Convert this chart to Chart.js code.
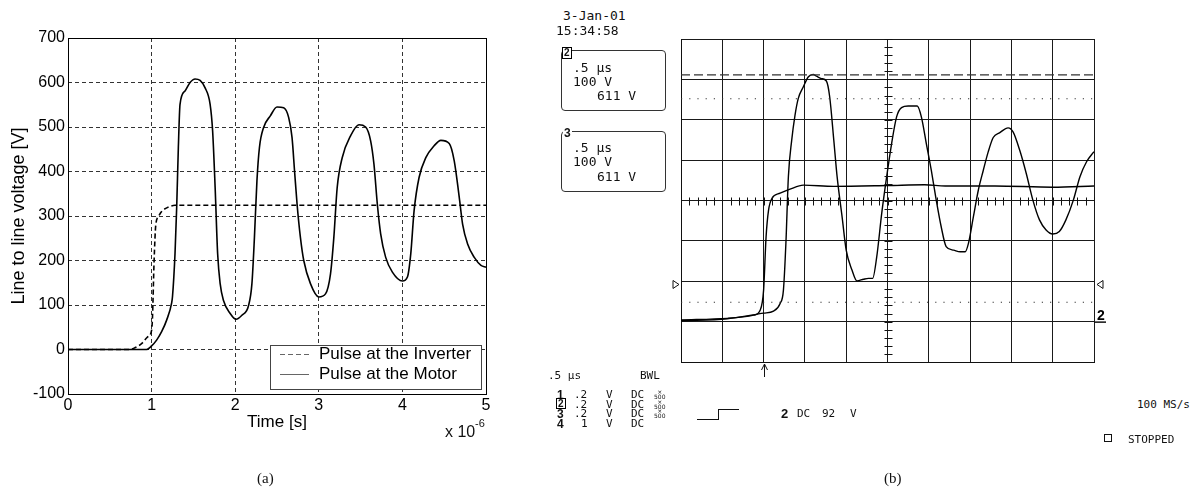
<!DOCTYPE html>
<html><head><meta charset="utf-8">
<script src="https://cdn.jsdelivr.net/npm/chart.js@4.4.1/dist/chart.umd.min.js"></script>
<style>
html,body{margin:0;padding:0;background:#fff;}
body{width:1204px;height:491px;position:relative;overflow:hidden;}
.box{position:absolute;}
.t{position:absolute;white-space:pre;line-height:1;color:#111;}
.m13{font-family:"DejaVu Sans Mono",monospace;font-size:13px;}
.m11{font-family:"DejaVu Sans Mono",monospace;font-size:11px;}
.bd{font-family:"Liberation Sans",Arial,sans-serif;font-weight:bold;font-size:13px;}
.serif{font-family:"Liberation Serif","Times New Roman",serif;font-size:15px;}
.sans{font-family:"Liberation Sans",Arial,sans-serif;}
.frame{position:absolute;border:1px solid #333;border-radius:4px;box-sizing:border-box;}
.tiny{position:absolute;font-family:"DejaVu Sans",sans-serif;font-size:6px;line-height:5px;text-align:center;color:#111;}
</style></head>
<body>
<div class="box" style="left:0;top:0;width:545px;height:491px"><canvas id="c1"></canvas></div>
<div class="box" style="left:660px;top:0;width:460px;height:491px"><canvas id="c2"></canvas></div>

<!-- left figure extras -->
<div class="t sans" style="left:445px;top:424px;font-size:16px">x 10</div>
<div class="t sans" style="left:475px;top:418px;font-size:11px">-6</div>
<div class="t serif" style="left:257px;top:471px">(a)</div>
<div class="t serif" style="left:884px;top:471px">(b)</div>

<!-- scope header -->
<div class="t m13" style="left:563px;top:9px">3-Jan-01</div>
<div class="t m13" style="left:556px;top:24px">15:34:58</div>

<div class="frame" style="left:561px;top:50px;width:105px;height:61px"></div>
<div class="t bd" style="left:562px;top:47px;font-size:10px;background:#fff;border:1.5px solid #000;padding:0 1px;line-height:10px">2</div>
<div class="t m13" style="left:573px;top:61px">.5 µs</div>
<div class="t m13" style="left:573px;top:75px">100 V</div>
<div class="t m13" style="left:597px;top:89px">611 V</div>

<div class="frame" style="left:561px;top:131px;width:105px;height:61px"></div>
<div class="t bd" style="left:563px;top:127px;font-size:12px;background:#fff;padding:0 1px">3</div>
<div class="t m13" style="left:573px;top:141px">.5 µs</div>
<div class="t m13" style="left:573px;top:155px">100 V</div>
<div class="t m13" style="left:597px;top:170px">611 V</div>

<!-- scope footer -->
<div class="t m11" style="left:548px;top:370px">.5 µs</div>
<div class="t m11" style="left:640px;top:370px">BWL</div>

<div class="t bd" style="left:557px;top:389px;font-size:12px">1</div>
<div class="t m11" style="left:574px;top:389px">.2</div>
<div class="t m11" style="left:606px;top:389px">V</div>
<div class="t m11" style="left:631px;top:389px">DC</div>
<div class="tiny" style="left:654px;top:389px">×<br>500</div>

<div class="t bd" style="left:556px;top:398px;font-size:10px;border:1.5px solid #000;line-height:9px;padding:0 1px">2</div>
<div class="t m11" style="left:574px;top:398.5px">.2</div>
<div class="t m11" style="left:606px;top:398.5px">V</div>
<div class="t m11" style="left:631px;top:398.5px">DC</div>
<div class="tiny" style="left:654px;top:398.5px">×<br>500</div>

<div class="t bd" style="left:557px;top:408px;font-size:12px">3</div>
<div class="t m11" style="left:574px;top:408px">.2</div>
<div class="t m11" style="left:606px;top:408px">V</div>
<div class="t m11" style="left:631px;top:408px">DC</div>
<div class="tiny" style="left:654px;top:408px">×<br>500</div>

<div class="t bd" style="left:557px;top:417.5px;font-size:12px">4</div>
<div class="t m11" style="left:581px;top:417.5px">1</div>
<div class="t m11" style="left:606px;top:417.5px">V</div>
<div class="t m11" style="left:631px;top:417.5px">DC</div>

<div class="box" style="left:697px;top:419px;width:21px;border-top:1.5px solid #111"></div>
<div class="box" style="left:718px;top:409px;height:11px;border-left:1.5px solid #111"></div>
<div class="box" style="left:718px;top:409px;width:21px;border-top:1.5px solid #111"></div>

<div class="t bd" style="left:781px;top:407px;font-size:13px">2</div>
<div class="t m11" style="left:797px;top:408px">DC</div>
<div class="t m11" style="left:822px;top:408px">92</div>
<div class="t m11" style="left:850px;top:408px">V</div>

<div class="t m11" style="left:1137px;top:399px">100 MS/s</div>
<div class="box" style="left:1104px;top:434px;width:6px;height:6px;border:1.5px solid #111"></div>
<div class="t m11" style="left:1128px;top:434px">STOPPED</div>

<script>
// ---------- data: panel (a) simulation, time in µs, voltage in V ----------
const inverterSim = [[0,0],[0.74,0],[0.8,4],[0.88,13],[0.95,28],[1.0,43],[1.01,70],[1.03,200],[1.05,280],[1.08,298],[1.12,310],[1.2,320],[1.28,324],[5,324]];
const motorSim = [[0,0],[0.94,0],[1.0,8],[1.06,21],[1.12,40],[1.18,66],[1.24,105],[1.25,119],[1.28,215],[1.3,319],[1.32,454],[1.34,551],[1.4,581],[1.46,600],[1.52,608],[1.58,605],[1.64,588],[1.7,551],[1.73,491],[1.76,364],[1.79,215],[1.82,148],[1.86,110],[1.94,81],[2.01,68],[2.08,77],[2.16,99],[2.2,148],[2.23,252],[2.26,379],[2.29,454],[2.34,499],[2.42,525],[2.5,545],[2.58,543],[2.64,521],[2.68,476],[2.71,401],[2.74,327],[2.78,252],[2.82,200],[2.9,148],[3.0,118],[3.08,125],[3.14,170],[3.18,252],[3.22,364],[3.28,431],[3.38,480],[3.48,505],[3.56,500],[3.62,469],[3.66,416],[3.7,327],[3.74,260],[3.8,207],[3.88,174],[4.0,154],[4.06,163],[4.1,215],[4.14,312],[4.2,387],[4.28,431],[4.38,458],[4.46,470],[4.56,463],[4.62,424],[4.68,342],[4.72,282],[4.78,237],[4.86,207],[4.94,189],[5.0,185]];
const simLabels = ['Pulse at the Inverter','Pulse at the Motor'];
const xTicksSim = [0,1,2,3,4,5];
const yTicksSim = [-100,0,100,200,300,400,500,600,700];

// ---------- data: panel (b) oscilloscope, time in µs (0.5 µs/div), voltage in V (100 V/div) ----------
const inverterScope = [[0,4],[0.56,8],[0.88,16],[0.96,29],[1.0,78],[1.03,210],[1.06,276],[1.1,305],[1.2,318],[1.32,328],[1.48,338],[1.85,335],[2.5,337],[2.95,339],[3.2,336],[3.8,336],[4.5,333],[5.0,336]];
const motorScope = [[0,2],[0.56,7],[1.0,21],[1.12,26],[1.2,45],[1.24,78],[1.27,194],[1.3,359],[1.34,449],[1.38,511],[1.42,553],[1.48,581],[1.54,606],[1.6,612],[1.64,608],[1.7,602],[1.76,596],[1.8,557],[1.85,449],[1.89,359],[1.95,260],[2.0,177],[2.07,128],[2.13,101],[2.21,105],[2.27,107],[2.32,107],[2.37,161],[2.43,268],[2.49,359],[2.55,441],[2.61,507],[2.67,530],[2.75,534],[2.86,534],[2.91,507],[2.97,441],[3.03,375],[3.09,301],[3.15,235],[3.21,186],[3.3,177],[3.38,173],[3.44,173],[3.48,194],[3.54,260],[3.6,326],[3.66,375],[3.72,421],[3.78,456],[3.86,468],[3.96,480],[4.02,470],[4.1,425],[4.18,367],[4.26,301],[4.34,252],[4.42,227],[4.5,217],[4.58,223],[4.66,252],[4.75,301],[4.83,359],[4.91,396],[5.0,421]];
const cursorDashed = [611];
const cursorDotted = [552, 48];
const triggerLevel = [92];
const triggerTime = [1.0];
const scopeCenter = [2.5, 300];

const SANS = '"Liberation Sans", Arial, sans-serif';
const pts = arr => arr.map(p => ({x: p[0], y: p[1]}));

// ---------- panel (a) ----------
const boxAndLegend = {
  id: 'boxAndLegend',
  afterDraw(chart) {
    const {ctx, chartArea: a} = chart;
    ctx.save();
    ctx.strokeStyle = '#000'; ctx.lineWidth = 1; ctx.setLineDash([]);
    ctx.strokeRect(Math.round(a.left) + 0.5, Math.round(a.top) + 0.5, Math.round(a.right - a.left), Math.round(a.bottom - a.top));
    const L = 270.5, T = 345.5, W = 211, H = 44;
    ctx.fillStyle = '#fff'; ctx.fillRect(L, T, W, H);
    ctx.strokeStyle = '#444'; ctx.strokeRect(L, T, W, H);
    const ds = chart.data.datasets;
    const rows = [354, 374];
    for (let i = 0; i < 2; i++) {
      ctx.strokeStyle = '#666'; ctx.lineWidth = 1;
      ctx.setLineDash(ds[i].borderDash || []);
      ctx.beginPath(); ctx.moveTo(280, rows[i] + 0.5); ctx.lineTo(309, rows[i] + 0.5); ctx.stroke();
      ctx.setLineDash([]);
      ctx.fillStyle = '#000'; ctx.font = '17px ' + SANS; ctx.textBaseline = 'middle'; ctx.textAlign = 'left';
      ctx.fillText(ds[i].label, 319, rows[i]);
    }
    ctx.restore();
  }
};

new Chart(document.getElementById('c1'), {
  type: 'line',
  data: {datasets: [
    {label: simLabels[0], data: pts(inverterSim), borderColor: '#000', borderWidth: 1.6, borderDash: [5, 3], pointRadius: 0, cubicInterpolationMode: 'monotone', fill: false},
    {label: simLabels[1], data: pts(motorSim), borderColor: '#000', borderWidth: 1.6, pointRadius: 0, cubicInterpolationMode: 'monotone', fill: false}
  ]},
  options: {
    responsive: true, maintainAspectRatio: false, animation: false, events: [],
    layout: {padding: {left: 0, top: 38, right: 59, bottom: 0}},
    plugins: {legend: {display: false}, tooltip: {enabled: false}},
    scales: {
      x: {
        type: 'linear', min: xTicksSim[0], max: xTicksSim[xTicksSim.length - 1],
        afterBuildTicks(s) { s.ticks = xTicksSim.map(v => ({value: v})); },
        ticks: {color: '#000', font: {size: 16, family: SANS}, padding: 2, maxRotation: 0, autoSkip: false, callback: v => String(v)},
        grid: {color: '#333', lineWidth: 1, drawTicks: false},
        border: {display: false, dash: [4, 3]},
        title: {display: true, text: 'Time [s]', color: '#000', font: {size: 17, family: SANS}, padding: {top: 0, bottom: 58}},
        afterFit(s) { s.height = 97; }
      },
      y: {
        type: 'linear', min: yTicksSim[0], max: yTicksSim[yTicksSim.length - 1],
        afterBuildTicks(s) { s.ticks = yTicksSim.map(v => ({value: v})); },
        ticks: {color: '#000', font: {size: 16, family: SANS}, padding: 3, autoSkip: false, callback: v => String(v)},
        grid: {color: '#333', lineWidth: 1, drawTicks: false},
        border: {display: false, dash: [4, 3]},
        title: {display: true, text: 'Line to line voltage [V]', color: '#000', font: {size: 18, family: SANS}, padding: {top: 8, bottom: 0}},
        afterFit(s) { s.width = 68; }
      }
    }
  },
  plugins: [boxAndLegend]
});

// ---------- panel (b) ----------
const scopeDeco = {
  id: 'scopeDeco',
  afterDraw(chart) {
    const {ctx, chartArea: a, scales: {x, y}} = chart;
    ctx.save();
    ctx.strokeStyle = '#111'; ctx.lineWidth = 1; ctx.setLineDash([]);
    const cx = Math.round(x.getPixelForValue(scopeCenter[0])) + 0.5;
    const cy = Math.round(y.getPixelForValue(scopeCenter[1])) + 0.5;
    ctx.beginPath();
    for (let i = 0; i <= 40; i++) {
      const py = Math.round(y.getPixelForValue(-100 + i * 20)) + 0.5;
      ctx.moveTo(cx - 4, py); ctx.lineTo(cx + 4, py);
    }
    for (let i = 0; i <= 50; i++) {
      const px = Math.round(x.getPixelForValue(i * 0.1)) + 0.5;
      ctx.moveTo(px, cy - 4); ctx.lineTo(px, cy + 4);
    }
    ctx.stroke();
    const ty = y.getPixelForValue(triggerLevel[0]);
    ctx.beginPath();
    ctx.moveTo(a.left - 8, ty - 4); ctx.lineTo(a.left - 2, ty); ctx.lineTo(a.left - 8, ty + 4); ctx.closePath();
    ctx.moveTo(a.right + 9, ty - 4); ctx.lineTo(a.right + 3, ty); ctx.lineTo(a.right + 9, ty + 4); ctx.closePath();
    ctx.stroke();
    const gy = y.getPixelForValue(0);
    ctx.lineWidth = 1.5;
    ctx.beginPath(); ctx.moveTo(a.right, gy + 0.5); ctx.lineTo(a.right + 12, gy + 0.5); ctx.stroke();
    ctx.fillStyle = '#000'; ctx.font = 'bold 14px ' + SANS; ctx.textBaseline = 'alphabetic'; ctx.textAlign = 'left';
    ctx.fillText('2', a.right + 3, gy - 2);
    const tx = Math.round(x.getPixelForValue(triggerTime[0])) + 0.5;
    ctx.lineWidth = 1;
    ctx.beginPath();
    ctx.moveTo(tx, a.bottom + 2); ctx.lineTo(tx, a.bottom + 15);
    ctx.moveTo(tx - 3, a.bottom + 8); ctx.lineTo(tx, a.bottom + 2); ctx.lineTo(tx + 3, a.bottom + 8);
    ctx.stroke();
    ctx.restore();
  }
};

const hline = v => [{x: 0, y: v}, {x: 5, y: v}];
new Chart(document.getElementById('c2'), {
  type: 'line',
  data: {datasets: [
    {label: 'cursor', data: hline(cursorDashed[0]), borderColor: '#333', borderWidth: 1.2, borderDash: [9, 4], pointRadius: 0},
    {label: 'cursor dotted 1', data: hline(cursorDotted[0]), borderColor: '#333', borderWidth: 1.2, borderDash: [1.2, 7], pointRadius: 0},
    {label: 'cursor dotted 2', data: hline(cursorDotted[1]), borderColor: '#333', borderWidth: 1.2, borderDash: [1.2, 7], pointRadius: 0},
    {label: 'inverter', data: pts(inverterScope), borderColor: '#000', borderWidth: 1.4, pointRadius: 0, cubicInterpolationMode: 'monotone'},
    {label: 'motor', data: pts(motorScope), borderColor: '#000', borderWidth: 1.4, pointRadius: 0, cubicInterpolationMode: 'monotone'}
  ]},
  options: {
    responsive: true, maintainAspectRatio: false, animation: false, events: [],
    layout: {padding: {left: 21, top: 39, right: 26, bottom: 129}},
    plugins: {legend: {display: false}, tooltip: {enabled: false}},
    scales: {
      x: {type: 'linear', min: 0, max: 5, ticks: {display: false, stepSize: 0.5}, grid: {color: '#1a1a1a', lineWidth: 1, drawTicks: false}, border: {display: true, color: '#111'}, afterFit(s) { s.height = 0; }},
      y: {type: 'linear', min: -100, max: 700, ticks: {display: false, stepSize: 100}, grid: {color: '#1a1a1a', lineWidth: 1, drawTicks: false}, border: {display: true, color: '#111'}, afterFit(s) { s.width = 0; }}
    }
  },
  plugins: [scopeDeco]
});
</script>
</body></html>
